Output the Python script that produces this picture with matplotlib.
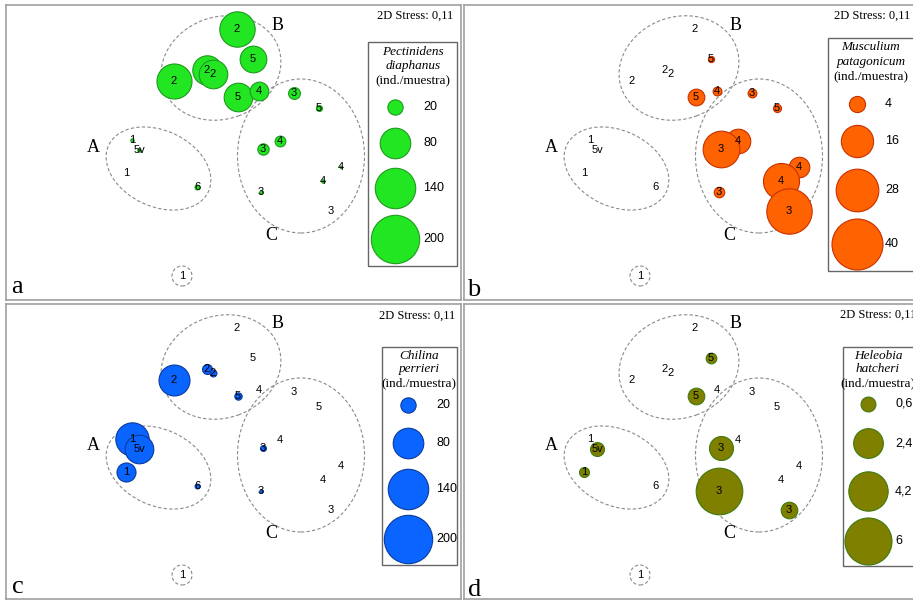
import matplotlib
matplotlib.use('Agg')
import matplotlib.pyplot as plt
from matplotlib.patches import Ellipse, Circle, Rectangle

# MDS ordination of the samples (label = site)
labels = ['2', '5', '2', '2', '2', '5', '4', '3', '5', '4',
          '3', '4', '4', '3', '3', '1', '5v', '1', '6', '1']
mds1 = [0.07, 0.23, -0.56, -0.23, -0.17, 0.08, 0.29, 0.64, 0.89, 0.50,
        0.33, 1.11, 0.93, 0.31, 1.01, -0.98, -0.91, -1.04, -0.33, -0.48]
mds2 = [1.21, 0.91, 0.69, 0.80, 0.76, 0.53, 0.59, 0.57, 0.42, 0.09,
        0.01, -0.17, -0.31, -0.42, -0.61, 0.10, 0.00, -0.23, -0.37, -1.26]

# abundances (ind./muestra) per sample
pectinidens = [107, 61, 105, 74, 70, 70, 30, 12, 3, 10,
               11, 0.5, 1, 1, 0, 1, 1, 0, 2, 0]
musculium = [0, 0.6, 0, 0, 0, 4.3, 1.2, 1.2, 1.0, 9.3,
             20.7, 6.5, 20, 1.7, 31.7, 0, 0, 0, 0, 0]
chilina = [0, 0, 82, 8.5, 4, 4.6, 0, 0, 0, 0,
           3, 0, 0, 1, 0, 95, 70, 31, 2, 0]
heleobia = [0, 0.31, 0, 0, 0, 0.75, 0, 0, 0, 0,
            1.56, 0, 0, 5.9, 0.75, 0, 0.53, 0.27, 0, 0]

legend_pect = [20, 80, 140, 200]
legend_musc = [4, 16, 28, 40]
legend_chil = [20, 80, 140, 200]
legend_hele = [0.6, 2.4, 4.2, 6]
legend_hele_txt = ['0,6', '2,4', '4,2', '6']

# groups from cluster analysis
groups = ['A', 'B', 'C']
grp_x = [-0.715, -0.09, 0.71]
grp_y = [-0.185, 0.82, -0.06]
grp_w = [1.10, 1.22, 1.27]
grp_h = [0.76, 1.02, 1.54]
grp_ang = [-25, 20, 0]
grp_lab_x = [-1.37, 0.48, 0.41]
grp_lab_y = [0.03, 1.25, -0.85]

SERIF = 'Liberation Serif'
SANS = 'Liberation Sans'
W, H = 455, 295  # panel size in px

panels = [
    dict(letter='a', data=pectinidens, leg=legend_pect, legtxt=[str(v) for v in legend_pect],
         title=['Pectinidens', 'diaphanus'], fc='#22e622', ec='#1f9a1f', scale=6.06,
         pos=(6, 5), box=(362, 37, 89, 224), cx=389, cy=[102, 138, 183, 234], tx=417,
         ty=[47, 61, 75], tcx=407, stress=(447, 11), let=(11, 282)),
    dict(letter='b', data=musculium, leg=legend_musc, legtxt=[str(v) for v in legend_musc],
         title=['Musculium', 'patagonicum'], fc='#ff6200', ec='#c83000', scale=33.7,
         pos=(464, 5), box=(364, 33, 120, 233), cx=393, cy=[99, 136, 185, 239], tx=421,
         ty=[42, 57, 71], tcx=407, stress=(446, 11), let=(10, 285)),
    dict(letter='c', data=chilina, leg=legend_chil, legtxt=[str(v) for v in legend_chil],
         title=['Chilina', 'perrieri'], fc='#0a64ff', ec='#0a3a9a', scale=6.06,
         pos=(6, 304), box=(376, 43, 75, 218), cx=402, cy=[101, 139, 185, 235], tx=430,
         ty=[52, 65, 79], tcx=413, stress=(449, 12), let=(12, 283)),
    dict(letter='d', data=heleobia, leg=legend_hele, legtxt=legend_hele_txt,
         title=['Heleobia', 'hatcheri'], fc='#7f7f00', ec='#3f7a10', scale=191,
         pos=(464, 304), box=(379, 43, 120, 219), cx=404, cy=[100, 139, 187, 237], tx=431,
         ty=[52, 65, 79], tcx=414, stress=(452, 11), let=(11, 286)),
]

fig = plt.figure(figsize=(9.13, 6.0), dpi=100)
FW, FH = 913, 600


def fr(px, py):
    # panel-local pixel -> axes fraction
    return px / W, 1 - py / H


for p in panels:
    x0, y0 = p['pos']
    ax = fig.add_axes([x0 / FW, (FH - y0 - H) / FH, W / FW, H / FH])
    ax.set_xlim(-2.24, -2.24 + W / 100)
    ax.set_ylim(1.45 - H / 100, 1.45)
    ax.set_xticks([])
    ax.set_yticks([])
    for s in ax.spines.values():
        s.set_color('#a0a0a0')
        s.set_linewidth(1.2)

    # group envelopes
    for g in range(len(groups)):
        ax.add_patch(Ellipse((grp_x[g], grp_y[g]), grp_w[g], grp_h[g], angle=grp_ang[g],
                             fill=False, ec='#8a8a8a', lw=0.8, ls=(0, (3, 2))))
        ax.text(grp_lab_x[g], grp_lab_y[g], groups[g], family=SERIF, fontsize=13,
                ha='center', va='center')
    ax.add_patch(Circle((mds1[-1], mds2[-1]), 0.10, fill=False, ec='#8a8a8a',
                        lw=0.8, ls=(0, (3, 2))))

    # bubbles
    for i in range(len(labels)):
        v = p['data'][i]
        if v > 0:
            ax.scatter(mds1[i], mds2[i], s=p['scale'] * v, c=p['fc'],
                       edgecolors=p['ec'], linewidths=0.8, zorder=3)
    for i in range(len(labels)):
        ax.text(mds1[i], mds2[i], labels[i], family=SANS, fontsize=8,
                ha='center', va='center', zorder=5)

    # bubble legend
    bx, by, bw, bh = p['box']
    ax.add_patch(Rectangle(fr(bx, by + bh), bw / W, bh / H, transform=ax.transAxes,
                           fill=False, ec='#666666', lw=1.0, zorder=2))
    ax.text(*fr(p['tcx'], p['ty'][0]), p['title'][0], transform=ax.transAxes,
            family=SERIF, style='italic', fontsize=9.5, ha='center', va='center')
    ax.text(*fr(p['tcx'], p['ty'][1]), p['title'][1], transform=ax.transAxes,
            family=SERIF, style='italic', fontsize=9.5, ha='center', va='center')
    ax.text(*fr(p['tcx'], p['ty'][2]), '(ind./muestra)', transform=ax.transAxes,
            family=SERIF, fontsize=9.5, ha='center', va='center')
    for k in range(len(p['leg'])):
        ax.scatter(*fr(p['cx'], p['cy'][k]), s=p['scale'] * p['leg'][k], c=p['fc'],
                   edgecolors=p['ec'], linewidths=0.8, transform=ax.transAxes, zorder=3)
        ax.text(*fr(p['tx'], p['cy'][k]), p['legtxt'][k], transform=ax.transAxes,
                family=SANS, fontsize=9, ha='left', va='center')

    ax.text(*fr(*p['stress']), '2D Stress: 0,11', transform=ax.transAxes,
            family=SERIF, fontsize=9, ha='right', va='center')
    ax.text(*fr(*p['let']), p['letter'], transform=ax.transAxes,
            family=SERIF, fontsize=19, ha='center', va='center')

fig.savefig('out.png', dpi=100)
